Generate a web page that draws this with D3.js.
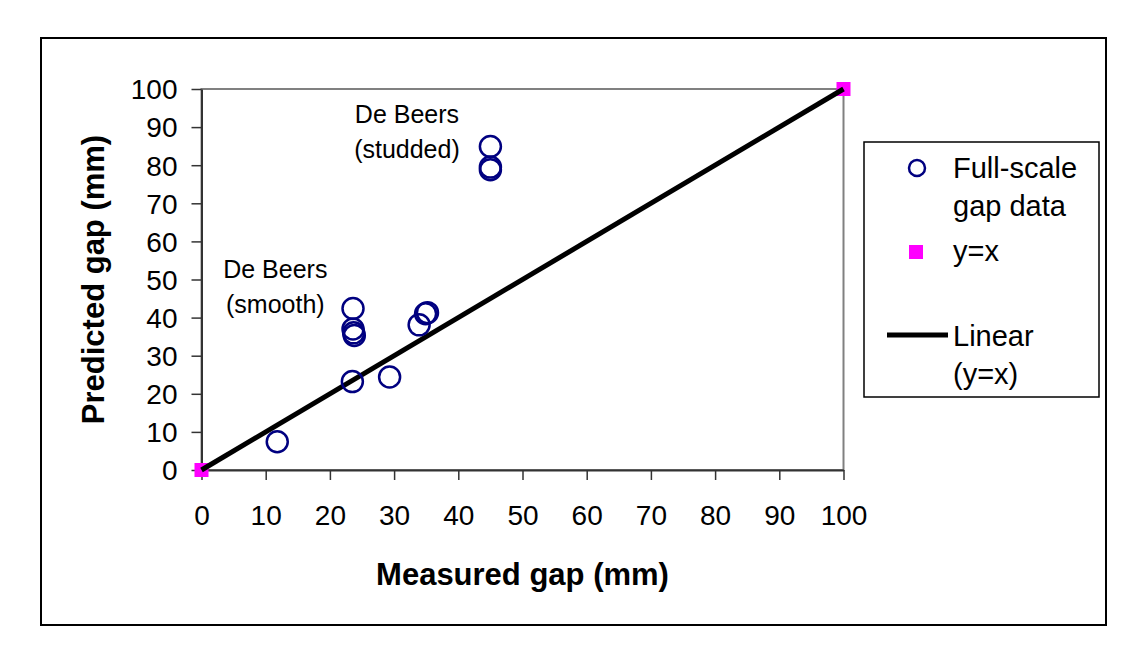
<!DOCTYPE html>
<html>
<head>
<meta charset="utf-8">
<script src="https://cdn.jsdelivr.net/npm/d3@7"></script>
<style>
  body { margin: 0; background: #fff; }
  svg text { font-family: "Liberation Sans", Arial, sans-serif; fill: #000; }
</style>
</head>
<body>
<svg id="chart" width="1146" height="654"></svg>
<script>
// measured vs predicted gap, full-scale data (mm)
const measuredGap = [11.8, 23.5, 29.3, 23.6, 23.6, 23.7, 23.8, 33.9, 34.9, 35.2, 45.0, 45.0, 45.0];
const predictedGap = [7.4, 23.2, 24.4, 42.4, 37.0, 36.0, 35.3, 38.1, 41.0, 41.3, 84.9, 79.5, 78.8];

// y=x reference points
const refX = [0, 100];
const refY = [0, 100];

const xTicks = [0, 10, 20, 30, 40, 50, 60, 70, 80, 90, 100];
const yTicks = [0, 10, 20, 30, 40, 50, 60, 70, 80, 90, 100];

const notes = [
  { lines: ["De Beers", "(studded)"], x: 32, y: 91 },
  { lines: ["De Beers", "(smooth)"], x: 11.5, y: 50.3 },
];

const legendItems = ["Full-scale|gap data", "y=x", "Linear|(y=x)"];

const plotLeft = 201.5, plotRight = 843.5, plotTop = 89, plotBottom = 470;

const svg = d3.select("#chart");

// outer frame
svg.append("rect")
  .attr("x", 41).attr("y", 38)
  .attr("width", 1065).attr("height", 587)
  .attr("fill", "none").attr("stroke", "#000").attr("stroke-width", 2);

const x = d3.scaleLinear().domain([0, 100]).range([plotLeft, plotRight]);
const y = d3.scaleLinear().domain([0, 100]).range([plotBottom, plotTop]);

// plot area border
svg.append("rect")
  .attr("x", plotLeft).attr("y", plotTop)
  .attr("width", plotRight - plotLeft).attr("height", plotBottom - plotTop)
  .attr("fill", "none").attr("stroke", "#808080").attr("stroke-width", 2);

const xAxis = svg.append("g")
  .attr("transform", `translate(0,${plotBottom})`)
  .call(d3.axisBottom(x).tickValues(xTicks).tickSize(10).tickSizeOuter(0).tickPadding(25));

const yAxis = svg.append("g")
  .attr("transform", `translate(${plotLeft},0)`)
  .call(d3.axisLeft(y).tickValues(yTicks).tickSize(10).tickSizeOuter(0).tickPadding(14));

[xAxis, yAxis].forEach((g) => {
  g.select(".domain").attr("stroke", "#333").attr("stroke-width", 2);
  g.selectAll(".tick line").attr("stroke", "#333").attr("stroke-width", 1.5);
  g.selectAll(".tick text")
    .style("font-size", "28px")
    .style("font-family", "Liberation Sans, Arial, sans-serif")
    .attr("fill", "#000");
});
yAxis.selectAll(".tick text").attr("dy", "0.35em");

// axis titles
svg.append("text")
  .attr("x", (plotLeft + plotRight) / 2).attr("y", 585)
  .attr("text-anchor", "middle")
  .style("font-size", "31px").style("font-weight", "bold")
  .text("Measured gap (mm)");

svg.append("text")
  .attr("transform", `translate(104,${(plotTop + plotBottom) / 2}) rotate(-90)`)
  .attr("text-anchor", "middle")
  .style("font-size", "31px").style("font-weight", "bold")
  .text("Predicted gap (mm)");

// y=x magenta squares
const sq = 14;
svg.selectAll(".ref")
  .data(refX)
  .join("rect")
  .attr("class", "ref")
  .attr("x", (d) => x(d) - sq / 2)
  .attr("y", (d, i) => y(refY[i]) - sq / 2)
  .attr("width", sq).attr("height", sq)
  .attr("fill", "#ff00ff");

// linear trend line
const line = d3.line().x((d) => x(d[0])).y((d) => y(d[1]));
svg.append("path")
  .attr("d", line(refX.map((d, i) => [d, refY[i]])))
  .attr("stroke", "#000").attr("stroke-width", 5)
  .attr("fill", "none");

// data circles
svg.selectAll(".pt")
  .data(measuredGap)
  .join("circle")
  .attr("class", "pt")
  .attr("cx", (d) => x(d))
  .attr("cy", (d, i) => y(predictedGap[i]))
  .attr("r", 10.5)
  .attr("fill", "none")
  .attr("stroke", "#000080")
  .attr("stroke-width", 2.5);

// annotations
notes.forEach((n) => {
  const t = svg.append("text")
    .attr("text-anchor", "middle")
    .style("font-size", "25px");
  n.lines.forEach((s, i) => {
    t.append("tspan")
      .attr("x", x(n.x))
      .attr("y", y(n.y) + i * 35)
      .text(s);
  });
});

// legend
const lg = svg.append("g");
lg.append("rect")
  .attr("x", 864).attr("y", 142)
  .attr("width", 235).attr("height", 255)
  .attr("fill", "#fff").attr("stroke", "#000").attr("stroke-width", 1.5);

const baselines = [178, 261, 346];
legendItems.forEach((lbl, i) => {
  const t = lg.append("text").style("font-size", "29px");
  lbl.split("|").forEach((s, j) => {
    t.append("tspan").attr("x", 953).attr("y", baselines[i] + j * 38).text(s);
  });
});
lg.append("circle")
  .attr("cx", 917).attr("cy", 168).attr("r", 8)
  .attr("fill", "none").attr("stroke", "#000080").attr("stroke-width", 2.5);
lg.append("rect")
  .attr("x", 909).attr("y", 245).attr("width", sq).attr("height", sq)
  .attr("fill", "#ff00ff");
lg.append("line")
  .attr("x1", 887).attr("x2", 948).attr("y1", 335).attr("y2", 335)
  .attr("stroke", "#000").attr("stroke-width", 5);
</script>
</body>
</html>
